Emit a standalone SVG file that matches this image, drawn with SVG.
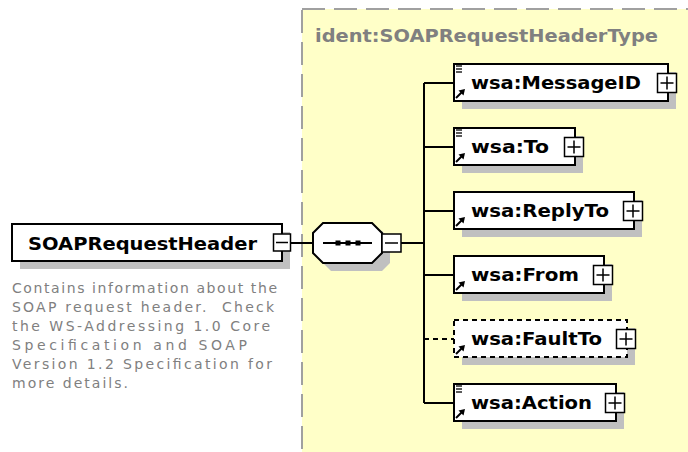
<svg xmlns="http://www.w3.org/2000/svg" width="688" height="452" viewBox="0 0 688 452">
<style>
.box{fill:#fff;stroke:#000;stroke-width:2}
.dbox{fill:#fff;stroke:#000;stroke-width:2;stroke-dasharray:5,4}
.sh{fill:#c0c0c0}
.pm{fill:#fff;stroke:#000;stroke-width:1.5}
.pl{stroke:#000;stroke-width:1.5;fill:none}
.ln{stroke:#000;stroke-width:2;fill:none}
.lbl{font-family:"DejaVu Sans",Verdana,sans-serif;font-weight:bold;font-size:17px;fill:#000}
.ttl{font-family:"DejaVu Sans",Verdana,sans-serif;font-weight:bold;font-size:17px;fill:#808080}
.desc{font-family:"DejaVu Sans",Tahoma,sans-serif;font-size:14px;fill:#808080}
.ic{stroke:#000;stroke-width:1.3}
</style>
<defs>
<g id="arrow"><line x1="0" y1="9" x2="6" y2="3" stroke="#000" stroke-width="2"/><polygon points="9,0 2.5,1.5 7.5,6.5" fill="#000"/></g>
<g id="lines"><line x1="0" y1="0" x2="6" y2="0" class="ic"/><line x1="0" y1="3" x2="6" y2="3" class="ic"/><line x1="0" y1="6" x2="6" y2="6" class="ic"/></g>
</defs>
<rect id="typebox" x="302" y="9" width="400" height="460" fill="#ffffc8" stroke="#a0a0a0" stroke-width="2" stroke-dasharray="23,9"/>
<text class="ttl" x="315" y="42" textLength="343" lengthAdjust="spacingAndGlyphs">ident:SOAPRequestHeaderType</text>

<g id="connectors">
<line class="ln" x1="290" y1="243" x2="313" y2="243"/>
<line class="ln" x1="401" y1="243" x2="424" y2="243"/>
<line class="ln" x1="424" y1="83" x2="424" y2="403"/>
<line class="ln" x1="424" y1="83" x2="454" y2="83"/>
<line class="ln" x1="424" y1="147" x2="454" y2="147"/>
<line class="ln" x1="424" y1="211" x2="454" y2="211"/>
<line class="ln" x1="424" y1="275" x2="454" y2="275"/>
<line class="ln" x1="424" y1="339" x2="454" y2="339" stroke-dasharray="5,4"/>
<line class="ln" x1="424" y1="403" x2="454" y2="403"/>
</g>

<g id="SOAPRequestHeader">
<rect class="sh" x="20" y="232" width="270" height="37"/>
<rect class="box" x="12" y="224" width="270" height="37"/>
<text class="lbl" x="28" y="250" style="font-size:18px" textLength="229" lengthAdjust="spacingAndGlyphs">SOAPRequestHeader</text>
<rect class="pm" x="273.5" y="234" width="17" height="17"/>
<line class="pl" x1="276" y1="242.5" x2="288" y2="242.5"/>
<g class="desc">
<text x="12" y="293" textLength="265" lengthAdjust="spacing">Contains information about the</text>
<text x="12" y="312" textLength="262" lengthAdjust="spacing" xml:space="preserve">SOAP request header.  Check</text>
<text x="12" y="331" textLength="258" lengthAdjust="spacing">the WS-Addressing 1.0 Core</text>
<text x="12" y="350" textLength="235" lengthAdjust="spacing">Specification and SOAP</text>
<text x="12" y="369" textLength="260" lengthAdjust="spacing">Version 1.2 Specification for</text>
<text x="12" y="388" textLength="116" lengthAdjust="spacing">more details.</text>
</g>
</g>

<g id="sequence">
<polygon class="sh" points="331,231 382,231 390,239 390,263 382,271 331,271 321,261 321,241"/>
<polygon class="box" points="323,223 372,223 382,233 382,253 372,263 323,263 313,253 313,233"/>
<line class="ln" x1="323" y1="243" x2="372" y2="243"/>
<rect x="335.5" y="240.5" width="5" height="5" fill="#000"/>
<rect x="345.5" y="240.5" width="5" height="5" fill="#000"/>
<rect x="355.5" y="240.5" width="5" height="5" fill="#000"/>
<rect class="pm" x="382" y="234" width="19" height="18"/>
<line class="pl" x1="385" y1="243" x2="398" y2="243"/>
</g>

<g id="MessageID">
<rect class="sh" x="462" y="72" width="214" height="37"/>
<rect class="box" x="454" y="64" width="214" height="37"/>
<use href="#lines" x="456" y="66"/>
<use href="#arrow" x="456" y="89"/>
<text class="lbl" x="471" y="89" textLength="170" lengthAdjust="spacingAndGlyphs">wsa:MessageID</text>
<rect class="pm" x="657.5" y="73.5" width="19" height="19"/>
<path class="pl" d="M660.5,83H673.5M667,76.5V89.5"/>
</g>

<g id="To">
<rect class="sh" x="462" y="136" width="121" height="37"/>
<rect class="box" x="454" y="128" width="121" height="37"/>
<use href="#lines" x="456" y="130"/>
<use href="#arrow" x="456" y="153"/>
<text class="lbl" x="471" y="153" textLength="78" lengthAdjust="spacingAndGlyphs">wsa:To</text>
<rect class="pm" x="564.5" y="137.5" width="19" height="19"/>
<path class="pl" d="M567.5,147H580.5M574,140.5V153.5"/>
</g>

<g id="ReplyTo">
<rect class="sh" x="462" y="200" width="180" height="37"/>
<rect class="box" x="454" y="192" width="180" height="37"/>
<use href="#arrow" x="456" y="217"/>
<text class="lbl" x="471" y="217" textLength="138" lengthAdjust="spacingAndGlyphs">wsa:ReplyTo</text>
<rect class="pm" x="623.5" y="201.5" width="19" height="19"/>
<path class="pl" d="M626.5,211H639.5M633,204.5V217.5"/>
</g>

<g id="From">
<rect class="sh" x="462" y="264" width="150" height="37"/>
<rect class="box" x="454" y="256" width="150" height="37"/>
<use href="#arrow" x="456" y="281"/>
<text class="lbl" x="471" y="281" textLength="108" lengthAdjust="spacingAndGlyphs">wsa:From</text>
<rect class="pm" x="593.5" y="265.5" width="19" height="19"/>
<path class="pl" d="M596.5,275H609.5M603,268.5V281.5"/>
</g>

<g id="FaultTo">
<rect class="sh" x="462" y="328" width="173" height="37"/>
<rect class="dbox" x="454" y="320" width="173" height="37"/>
<use href="#arrow" x="456" y="345"/>
<text class="lbl" x="471" y="345" textLength="131" lengthAdjust="spacingAndGlyphs">wsa:FaultTo</text>
<rect class="pm" x="616.5" y="329.5" width="19" height="19"/>
<path class="pl" d="M619.5,339H632.5M626,332.5V345.5"/>
</g>

<g id="Action">
<rect class="sh" x="462" y="392" width="162" height="37"/>
<rect class="box" x="454" y="384" width="162" height="37"/>
<use href="#lines" x="456" y="386"/>
<use href="#arrow" x="456" y="409"/>
<text class="lbl" x="471" y="409" textLength="121" lengthAdjust="spacingAndGlyphs">wsa:Action</text>
<rect class="pm" x="605.5" y="393.5" width="19" height="19"/>
<path class="pl" d="M608.5,403H621.5M615,396.5V409.5"/>
</g>
</svg>
